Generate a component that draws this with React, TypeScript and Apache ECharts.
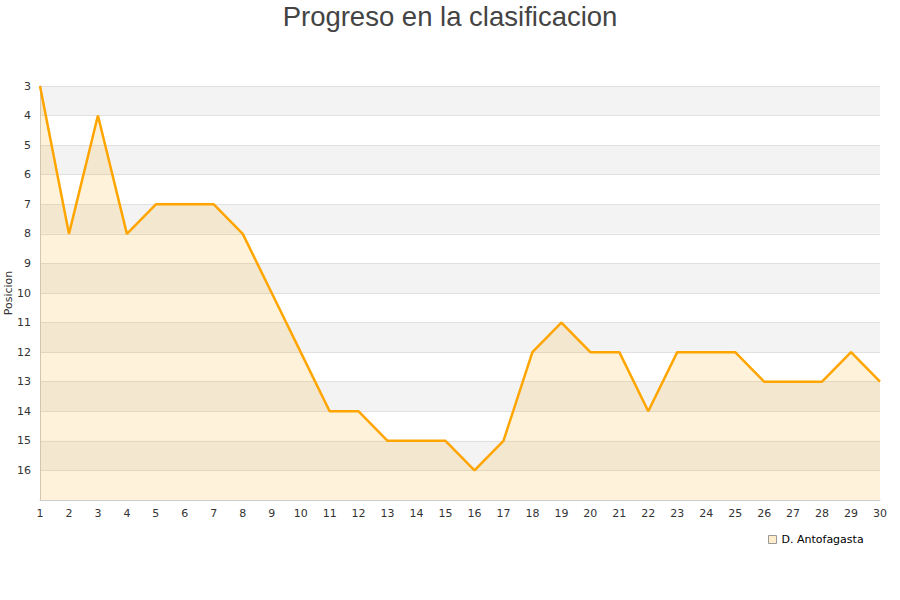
import React, { useEffect, useRef } from "react";
import * as echarts from "echarts";

const jornadas = Array.from({ length: 30 }, (_, i) => String(i + 1));
const posiciones = [3, 8, 4, 8, 7, 7, 7, 8, 10, 12, 14, 14, 15, 15, 15, 16, 15, 12, 11, 12, 12, 14, 12, 12, 12, 13, 13, 13, 12, 13];
const equipo = "D. Antofagasta";
const titulo = "Progreso en la clasificacion";

export default function App() {
  const ref = useRef<HTMLDivElement>(null);
  useEffect(() => {
    const chart = echarts.init(ref.current!, null, { renderer: "svg" });
    chart.setOption({
      animation: false,
      title: {
        text: titulo,
        left: "center",
        top: -3,
        textStyle: { fontFamily: "Liberation Sans, Arial, sans-serif", fontSize: 27.5, fontWeight: "normal", color: "#444" },
      },
      legend: {
        data: [{ name: equipo, icon: "rect", itemStyle: { color: "#FFEDCC", borderColor: "#999", borderWidth: 1 } }],
        left: 763,
        top: 529,
        itemWidth: 8,
        itemHeight: 8,
        itemGap: 6,
        textStyle: { fontFamily: "DejaVu Sans", fontSize: 11, color: "#000" },
      },
      grid: { left: 40, right: 20, top: 86, bottom: 100, outerBoundsMode: "none", containLabel: false },
      xAxis: {
        type: "category",
        data: jornadas,
        boundaryGap: false,
        axisLine: { lineStyle: { color: "#ccc" } },
        axisTick: { show: false },
        axisLabel: { color: "#333", fontFamily: "DejaVu Sans", fontSize: 11, margin: 8, interval: 0 },
      },
      yAxis: {
        type: "value",
        inverse: true,
        min: 3,
        max: 17,
        interval: 1,
        name: "Posicion",
        nameLocation: "middle",
        nameGap: 26,
        nameRotate: 90,
        nameMoveOverlap: false,
        nameTextStyle: { fontFamily: "DejaVu Sans", fontSize: 11, color: "#333" },
        axisLine: { show: true, lineStyle: { color: "#ccc" } },
        axisTick: { show: false },
        axisLabel: {
          color: "#333",
          fontFamily: "DejaVu Sans",
          fontSize: 11,
          margin: 9,
          formatter: (v: number) => (v >= 17 ? "" : String(v)),
        },
        splitLine: { show: true, lineStyle: { color: "#e0e0e0" } },
        splitArea: { show: true, areaStyle: { color: ["#f3f3f3", "#ffffff"] } },
      },
      series: [
        {
          name: equipo,
          type: "line",
          data: posiciones,
          showSymbol: false,
          symbol: "none",
          lineStyle: { color: "#FFA500", width: 2.5 },
          itemStyle: { color: "#FFA500" },
          areaStyle: { color: "rgba(255,165,0,0.2)", origin: "end" },
        },
      ],
    });
    return () => chart.dispose();
  }, []);
  return <div ref={ref} style={{ position: "absolute", left: 0, top: 0, width: 900, height: 600 }} />;
}
